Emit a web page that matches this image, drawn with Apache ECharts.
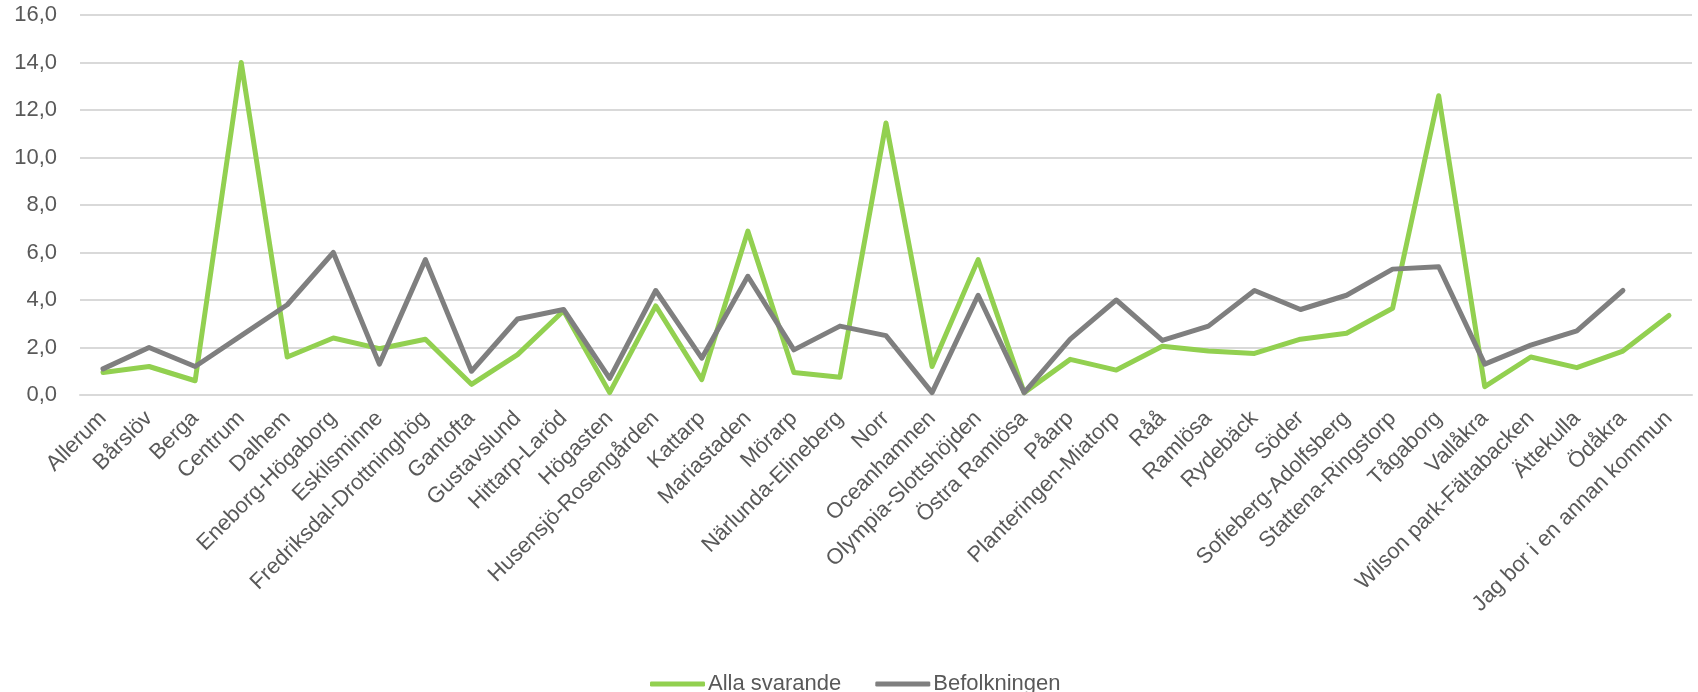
<!DOCTYPE html>
<html>
<head>
<meta charset="utf-8">
<script src="https://cdn.jsdelivr.net/npm/echarts@6/dist/echarts.min.js"></script>
<style>
html,body{margin:0;padding:0;background:#fff;}
#chart{width:1698px;height:692px;}
</style>
</head>
<body>
<div id="chart"></div>
<script>
const categories = ["Allerum","Bårslöv","Berga","Centrum","Dalhem","Eneborg-Högaborg","Eskilsminne","Fredriksdal-Drottninghög","Gantofta","Gustavslund","Hittarp-Laröd","Högasten","Husensjö-Rosengården","Kattarp","Mariastaden","Mörarp","Närlunda-Elineberg","Norr","Oceanhamnen","Olympia-Slottshöjden","Östra Ramlösa","Påarp","Planteringen-Miatorp","Råå","Ramlösa","Rydebäck","Söder","Sofieberg-Adolfsberg","Stattena-Ringstorp","Tågaborg","Vallåkra","Wilson park-Fältabacken","Ättekulla","Ödåkra","Jag bor i en annan kommun"];
const allaSvarande = [0.95,1.2,0.6,14.0,1.6,2.4,1.95,2.35,0.45,1.7,3.55,0.1,3.75,0.65,6.9,0.95,0.75,11.45,1.2,5.7,0.1,1.5,1.05,2.05,1.85,1.75,2.35,2.6,3.65,12.6,0.35,1.6,1.15,1.85,3.35];
const befolkningen = [1.1,2.0,1.2,2.5,3.8,6.0,1.3,5.7,1.0,3.2,3.6,0.7,4.4,1.55,5.0,1.9,2.9,2.5,0.1,4.2,0.1,2.35,4.0,2.3,2.9,4.4,3.6,4.2,5.3,5.4,1.3,2.1,2.7,4.4,null];
const yTicks = {min:0, max:16, interval:2};
const seriesNames = ["Alla svarande","Befolkningen"];

const chart = echarts.init(document.getElementById('chart'));
const font = '"Liberation Sans", Arial, sans-serif';
chart.setOption({
  animation:false,
  backgroundColor:'#ffffff',
  grid:{left:80,right:6,top:15,bottom:297,containLabel:false},
  legend:{
    data:seriesNames,
    left:645, top:668,
    itemWidth:55, itemHeight:5, itemGap:34,
    icon:'roundRect',
    textStyle:{fontFamily:font,fontSize:22,color:'#595959',padding:[0,0,0,-2]}
  },
  xAxis:{
    type:'category',
    data:categories,
    boundaryGap:true,
    axisLine:{show:true,lineStyle:{color:'#D9D9D9',width:2}},
    axisTick:{show:false},
    axisLabel:{rotate:45,interval:0,margin:20,fontFamily:font,fontSize:22,color:'#595959'}
  },
  yAxis:{
    type:'value',
    min:yTicks.min,max:yTicks.max,interval:yTicks.interval,
    axisLine:{show:false},axisTick:{show:false},
    splitLine:{lineStyle:{color:'#D9D9D9',width:2}},
    axisLabel:{margin:23,fontFamily:font,fontSize:22,color:'#595959',
      formatter:v=>v.toFixed(1).replace('.',',')}
  },
  series:[
    {name:seriesNames[0],type:'line',data:allaSvarande,showSymbol:false,symbol:'none',
     lineStyle:{color:'#92D050',width:5,cap:'round',join:'round'},itemStyle:{color:'#92D050'},z:2},
    {name:seriesNames[1],type:'line',data:befolkningen,showSymbol:false,symbol:'none',connectNulls:false,
     lineStyle:{color:'#7F7F7F',width:5,cap:'round',join:'round'},itemStyle:{color:'#7F7F7F'},z:3}
  ]
});
</script>
</body>
</html>
